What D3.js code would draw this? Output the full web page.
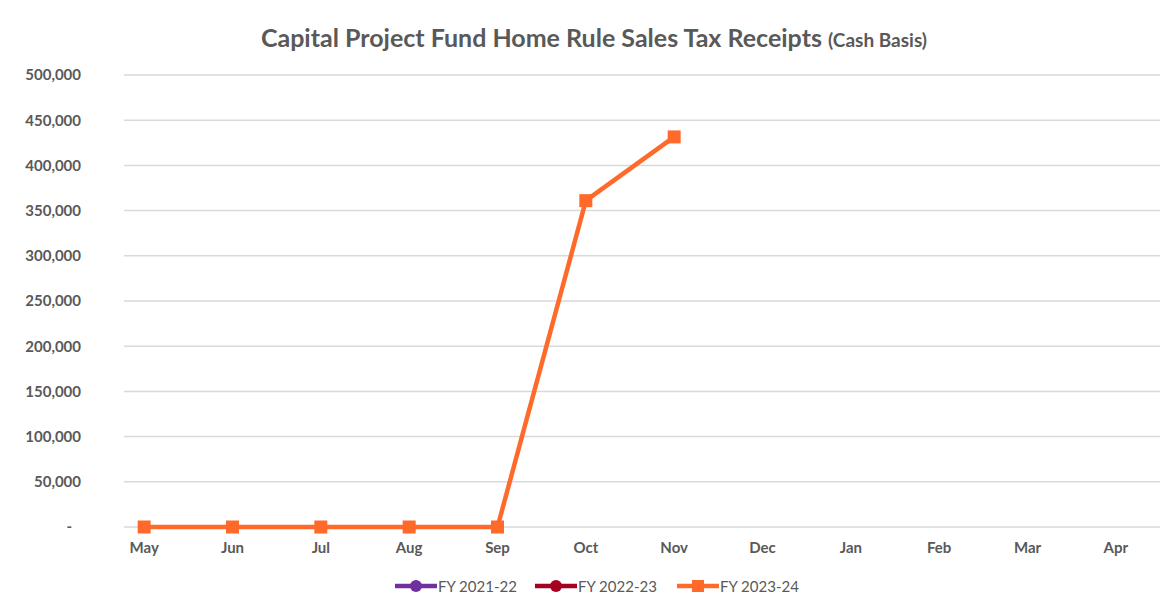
<!DOCTYPE html>
<html>
<head>
<meta charset="utf-8">
<script src="https://cdn.jsdelivr.net/npm/d3@7"></script>
<style>
  body { margin: 0; background: #fff; }
  svg { display: block; font-family: Lato, "Open Sans", sans-serif; }
</style>
</head>
<body>
<div id="chart"></div>
<script>
// Data
const months = ['May', 'Jun', 'Jul', 'Aug', 'Sep', 'Oct', 'Nov', 'Dec', 'Jan', 'Feb', 'Mar', 'Apr'];
const seriesNames = ['FY 2021-22', 'FY 2022-23', 'FY 2023-24'];
const fy2122 = [];
const fy2223 = [];
const fy2324 = [0, 0, 0, 0, 0, 361000, 431500];
const yTicks = [0, 50000, 100000, 150000, 200000, 250000, 300000, 350000, 400000, 450000, 500000];

const width = 1174;
const height = 615;
const margin = { top: 75, right: 14, bottom: 88, left: 100 };
const textColor = '#595959';
const colors = ['#7030A0', '#A50021', '#FF6A2B'];

const svg = d3.select('#chart')
  .append('svg')
  .attr('width', width)
  .attr('height', height);

const x = d3.scaleBand()
  .domain(months)
  .range([margin.left, width - margin.right]);

const y = d3.scaleLinear()
  .domain([0, 500000])
  .range([height - margin.bottom, margin.top]);

const cx = d => x(d) + x.bandwidth() / 2;

// Title
const title = svg.append('text')
  .attr('x', 594)
  .attr('y', 47)
  .attr('text-anchor', 'middle')
  .attr('fill', textColor)
  .attr('font-weight', 700);
title.append('tspan').attr('font-size', 25).text('Capital Project Fund Home Rule Sales Tax Receipts ');
title.append('tspan').attr('font-size', 19).text('(Cash Basis)');

// Gridlines
svg.append('g')
  .selectAll('line')
  .data(yTicks)
  .join('line')
  .attr('x1', 124)
  .attr('x2', width - margin.right)
  .attr('y1', d => y(d))
  .attr('y2', d => y(d))
  .attr('stroke', '#d9d9d9')
  .attr('stroke-width', 1.5);

// Y axis
const yAxis = d3.axisLeft(y)
  .tickValues(yTicks)
  .tickSize(0)
  .tickPadding(0)
  .tickFormat(d => d === 0 ? '-' : d3.format(',')(d));

svg.append('g')
  .attr('transform', 'translate(81, 0)')
  .call(yAxis)
  .call(g => g.select('.domain').remove())
  .call(g => g.selectAll('text')
    .attr('fill', textColor)
    .attr('font-size', 15)
    .attr('font-weight', 700)
    .attr('font-family', 'Lato, sans-serif')
    .attr('dx', d => d === 0 ? -9 : 0));

// X axis
const xAxis = d3.axisBottom(x).tickSize(0).tickPadding(0);
svg.append('g')
  .attr('transform', `translate(0, ${y(0) + 15})`)
  .call(xAxis)
  .call(g => g.select('.domain').remove())
  .call(g => g.selectAll('text')
    .attr('fill', textColor)
    .attr('font-size', 15)
    .attr('font-weight', 700)
    .attr('font-family', 'Lato, sans-serif'));

// Lines
const allSeries = [fy2122, fy2223, fy2324];
const line = d3.line()
  .x((d, i) => cx(months[i]))
  .y(d => y(d));

allSeries.forEach((values, s) => {
  if (!values.length) return;
  svg.append('path')
    .datum(values)
    .attr('fill', 'none')
    .attr('stroke', colors[s])
    .attr('stroke-width', 4.5)
    .attr('stroke-linejoin', 'round')
    .attr('d', line);
  svg.append('g')
    .selectAll('rect')
    .data(values)
    .join('rect')
    .attr('x', (d, i) => cx(months[i]) - 6.5)
    .attr('y', d => y(d) - 6.5)
    .attr('width', 13)
    .attr('height', 13)
    .attr('fill', colors[s]);
});

// Legend
const legendX = [395, 535, 677];
const legend = svg.append('g').attr('transform', 'translate(0, 586)');
seriesNames.forEach((name, i) => {
  const g = legend.append('g').attr('transform', `translate(${legendX[i]}, 0)`);
  g.append('line')
    .attr('x1', 0).attr('x2', 42)
    .attr('stroke', colors[i])
    .attr('stroke-width', 4.5);
  if (i < 2) {
    g.append('circle').attr('cx', 21).attr('r', 6).attr('fill', colors[i]);
  } else {
    g.append('rect').attr('x', 15).attr('y', -6).attr('width', 12).attr('height', 12).attr('fill', colors[i]);
  }
  g.append('text')
    .attr('x', 43)
    .attr('y', 5.5)
    .attr('fill', textColor)
    .attr('font-size', 15)
    .text(name);
});
</script>
</body>
</html>
